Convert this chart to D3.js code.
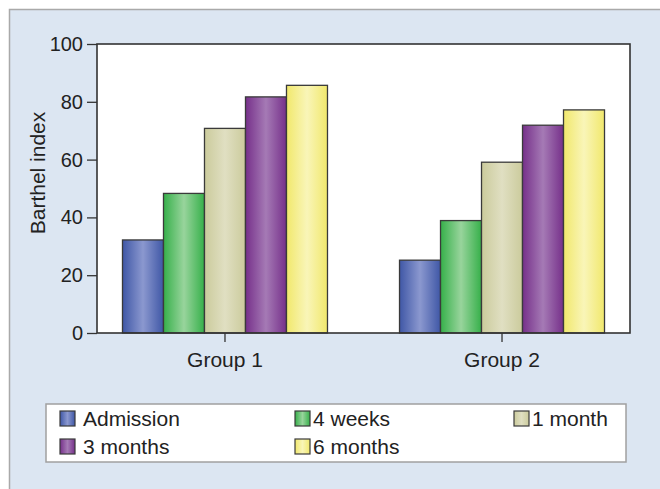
<!DOCTYPE html>
<html><head><meta charset="utf-8">
<script src="https://cdn.jsdelivr.net/npm/d3@7/dist/d3.min.js"></script>
<style>html,body{margin:0;padding:0;background:#fff;}svg{display:block;font-family:"Liberation Sans",Arial,sans-serif;}</style>
</head><body><svg id="c" width="660" height="489"></svg>
<script>
const groups = ["Group 1", "Group 2"];
const seriesNames = ["Admission", "4 weeks", "1 month", "3 months", "6 months"];
const admission = [32.2, 25.2];
const weeks4 = [48.3, 38.9];
const month1 = [70.8, 59.1];
const months3 = [81.7, 71.9];
const months6 = [85.7, 77.2];
const yTicks = [0, 20, 40, 60, 80, 100];
const seriesValues = [admission, weeks4, month1, months3, months6];
const edgeColors = ["#3f57a6", "#36b04a", "#cbcb9c", "#76308a", "#f1e86c"];
const midColors  = ["#8b98cf", "#98d49c", "#e0dfc2", "#a57ab5", "#f9f5b8"];

const svg = d3.select("#c");
const defs = svg.append("defs");
seriesNames.forEach((s,i)=>{
  const g = defs.append("linearGradient").attr("id","g"+i).attr("x1","0").attr("x2","1").attr("y1","0").attr("y2","0");
  g.append("stop").attr("offset","0").attr("stop-color",edgeColors[i]);
  g.append("stop").attr("offset","0.5").attr("stop-color",midColors[i]);
  g.append("stop").attr("offset","1").attr("stop-color",edgeColors[i]);
});

// panel
svg.append("rect").attr("x",9.5).attr("y",9.5).attr("width",660).attr("height",490)
  .attr("fill","#dce6f2").attr("stroke","#a9a9a9").attr("stroke-width",1.5);

const L=97, R=630, T=44, B=333;
const x0 = d3.scaleBand().domain(groups).range([L,R]).paddingInner(0.26).paddingOuter(0.092);
const x1 = d3.scaleBand().domain(seriesNames).range([0,x0.bandwidth()]);
const y = d3.scaleLinear().domain([0,100]).range([B,T]);

svg.append("rect").attr("x",L).attr("y",T).attr("width",R-L).attr("height",B-T).attr("fill","#fff");

const data = [];
groups.forEach((g,gi)=>seriesNames.forEach((s,si)=>data.push({g,s,si,v:seriesValues[si][gi]})));
svg.append("g").selectAll("rect").data(data).join("rect")
  .attr("x",d=>x0(d.g)+x1(d.s)).attr("width",x1.bandwidth())
  .attr("y",d=>y(d.v)).attr("height",d=>B-y(d.v))
  .attr("fill",d=>"url(#g"+d.si+")").attr("stroke","#3a3a3a").attr("stroke-width",1.3);

svg.append("rect").attr("x",L).attr("y",T).attr("width",R-L).attr("height",B-T)
  .attr("fill","none").attr("stroke","#333").attr("stroke-width",1.6);

const ya = svg.append("g").attr("transform",`translate(${L},0)`)
  .call(d3.axisLeft(y).tickValues(yTicks).tickSize(10).tickPadding(4));
ya.select(".domain").remove();
ya.selectAll("line").attr("stroke","#333").attr("stroke-width",1.3);
ya.selectAll("text").attr("font-size",20).attr("fill","#222").attr("font-family","Liberation Sans, Arial, sans-serif");

const xa = svg.append("g").attr("transform",`translate(0,${B})`)
  .call(d3.axisBottom(x0).tickSize(9).tickPadding(10));
xa.select(".domain").remove();
xa.selectAll("line").attr("stroke","#333").attr("stroke-width",1.3);
xa.selectAll("text").attr("font-size",21).attr("fill","#222").attr("font-family","Liberation Sans, Arial, sans-serif");

svg.append("text").attr("transform","translate(45,173) rotate(-90)").attr("text-anchor","middle")
  .attr("font-size",21).attr("fill","#222").text("Barthel index");

// legend
svg.append("rect").attr("x",46).attr("y",404).attr("width",580).attr("height",58)
  .attr("fill","#fff").attr("stroke","#a0a0a0").attr("stroke-width",1.5);
const legPos = [[60,411],[295,411],[514,411],[60,439],[295,439]];
const lg = svg.append("g").selectAll("g").data(seriesNames).join("g")
  .attr("transform",(d,i)=>`translate(${legPos[i][0]},${legPos[i][1]})`);
lg.append("rect").attr("width",15).attr("height",15).attr("fill",(d,i)=>"url(#g"+i+")")
  .attr("stroke","#3a3a3a").attr("stroke-width",1.2);
lg.append("text").attr("x",(d,i)=> i===0||i===3 ? 23 : 18).attr("y",15).attr("font-size",21).attr("fill","#222").text(d=>d);
</script></body></html>
